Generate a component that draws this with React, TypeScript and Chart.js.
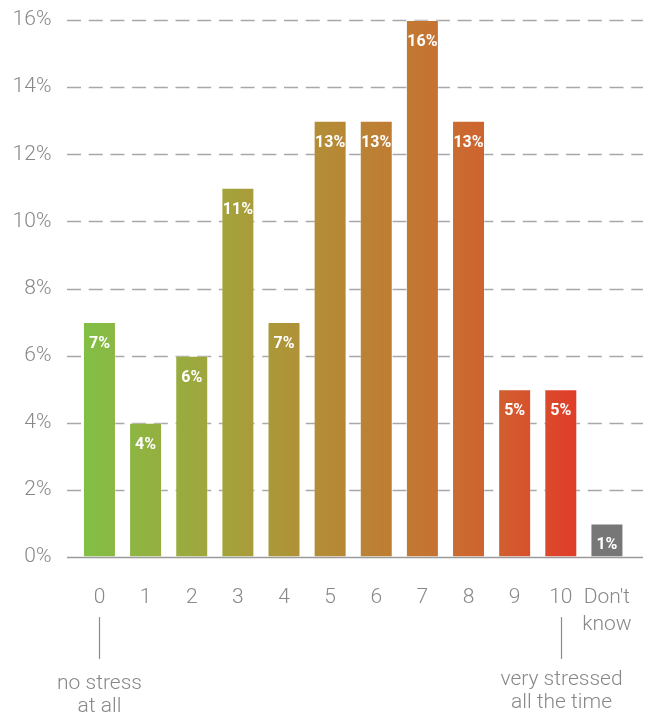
import React, { useEffect, useRef } from "react";
import { Chart, registerables } from "chart.js";

Chart.register(...registerables);

const categories: (string | string[])[] = ["0", "1", "2", "3", "4", "5", "6", "7", "8", "9", "10", ["Don't", "know"]];
const values: number[] = [7, 4, 6, 11, 7, 13, 13, 16, 13, 5, 5, 1];
const yTicks: number[] = [0, 2, 4, 6, 8, 10, 12, 14, 16];
const annotations = [
  { index: 0, lines: ["no stress", "at all"] },
  { index: 10, lines: ["very stressed", "all the time"] },
];
const gradientStops: [number, string][] = [
  [0, "#82BF45"],
  [0.3, "#A5A13B"],
  [0.5, "#B58A36"],
  [0.7, "#C57432"],
  [0.85, "#D25D2E"],
  [1, "#E03C29"],
];
const unknownColor = "#777777";
const FONT = "Roboto, 'Helvetica Neue', Arial, sans-serif";

function barColor(ctx: any) {
  const chart = ctx.chart;
  if (ctx.dataIndex === categories.length - 1) return unknownColor;
  const xs = chart.scales.x;
  if (!xs || !chart.chartArea) return gradientStops[0][1];
  const pitch = xs.getPixelForValue(1) - xs.getPixelForValue(0);
  const half = (pitch * 0.715) / 2;
  const x0 = xs.getPixelForValue(0) - half;
  const x1 = xs.getPixelForValue(10) + half;
  const g = chart.ctx.createLinearGradient(x0, 0, x1, 0);
  gradientStops.forEach(([o, c]) => g.addColorStop(o, c));
  return g;
}

const gridPlugin = {
  id: "dashGrid",
  beforeDatasetsDraw(chart: any) {
    const { ctx } = chart;
    const ys = chart.scales.y;
    const left = 67;
    const right = 643;
    ctx.save();
    yTicks.forEach((t) => {
      const y = Math.round(ys.getPixelForValue(t)) + 0.5;
      ctx.beginPath();
      ctx.lineWidth = 1.5;
      ctx.strokeStyle = t === 0 ? "#9a9a9a" : "#a8a8a8";
      ctx.setLineDash(t === 0 ? [] : [14, 7.7]);
      ctx.moveTo(left, y);
      ctx.lineTo(right, y);
      ctx.stroke();
    });
    ctx.restore();
  },
};

const labelPlugin = {
  id: "barLabels",
  afterDatasetsDraw(chart: any) {
    const { ctx } = chart;
    const meta = chart.getDatasetMeta(0);
    ctx.save();
    ctx.fillStyle = "#ffffff";
    ctx.font = `bold 16px ${FONT}`;
    ctx.textAlign = "center";
    ctx.textBaseline = "middle";
    meta.data.forEach((el: any, i: number) => {
      ctx.fillText(values[i] + "%", el.x, el.y + 22);
    });
    ctx.restore();
  },
};

const annotationPlugin = {
  id: "annot",
  afterDraw(chart: any) {
    const { ctx } = chart;
    const xs = chart.scales.x;
    ctx.save();
    annotations.forEach((a) => {
      const x = Math.round(xs.getPixelForValue(a.index)) + 0.5;
      ctx.beginPath();
      ctx.strokeStyle = "#8a8a8a";
      ctx.lineWidth = 1.2;
      ctx.moveTo(x, 617);
      ctx.lineTo(x, 659);
      ctx.stroke();
      ctx.fillStyle = "#888888";
      ctx.font = `300 21px ${FONT}`;
      ctx.textAlign = "center";
      ctx.textBaseline = "middle";
      const startY = a.index === 0 ? 684 : 680;
      a.lines.forEach((l, k) => ctx.fillText(l, x, startY + k * 23));
    });
    ctx.restore();
  },
};

export default function App() {
  const ref = useRef<HTMLCanvasElement | null>(null);
  useEffect(() => {
    if (!ref.current) return;
    const chart = new Chart(ref.current, {
      type: "bar",
      data: {
        labels: categories,
        datasets: [
          {
            data: values,
            backgroundColor: barColor,
            borderColor: "rgba(255,255,255,0.3)",
            borderWidth: 1,
            barPercentage: 0.715,
            categoryPercentage: 1,
          },
        ],
      },
      options: {
        animation: false,
        responsive: false,
        events: [],
        layout: { padding: { left: 0, right: 26, top: 20, bottom: 0 } },
        plugins: { legend: { display: false }, tooltip: { enabled: false } },
        scales: {
          x: {
            grid: { display: false, drawTicks: false },
            border: { display: false },
            ticks: {
              color: "#888888",
              font: { family: FONT, size: 21, weight: "300", lineHeight: 1.3 },
              padding: 27,
              maxRotation: 0,
              autoSkip: false,
            },
            afterFit: (s: any) => {
              s.height = 158;
              s.paddingLeft = 0;
              s.paddingRight = 0;
            },
          },
          y: {
            min: 0,
            max: 16,
            grid: {
              display: true,
              drawOnChartArea: false,
              drawTicks: true,
              tickLength: 21,
              color: "rgba(0,0,0,0)",
            },
            border: { display: false },
            ticks: {
              stepSize: 2,
              color: "#888888",
              padding: 4,
              font: { family: FONT, size: 21, weight: "300" },
              callback: (v: any) => v + "%",
            },
            afterFit: (s: any) => {
              s.width = 76.4;
            },
          },
        },
      },
      plugins: [gridPlugin, labelPlugin, annotationPlugin],
    });
    return () => chart.destroy();
  }, []);
  return (
    <div style={{ position: "absolute", left: 0, top: 0, width: 656, height: 715 }}>
      <canvas ref={ref} width={656} height={715} />
    </div>
  );
}
